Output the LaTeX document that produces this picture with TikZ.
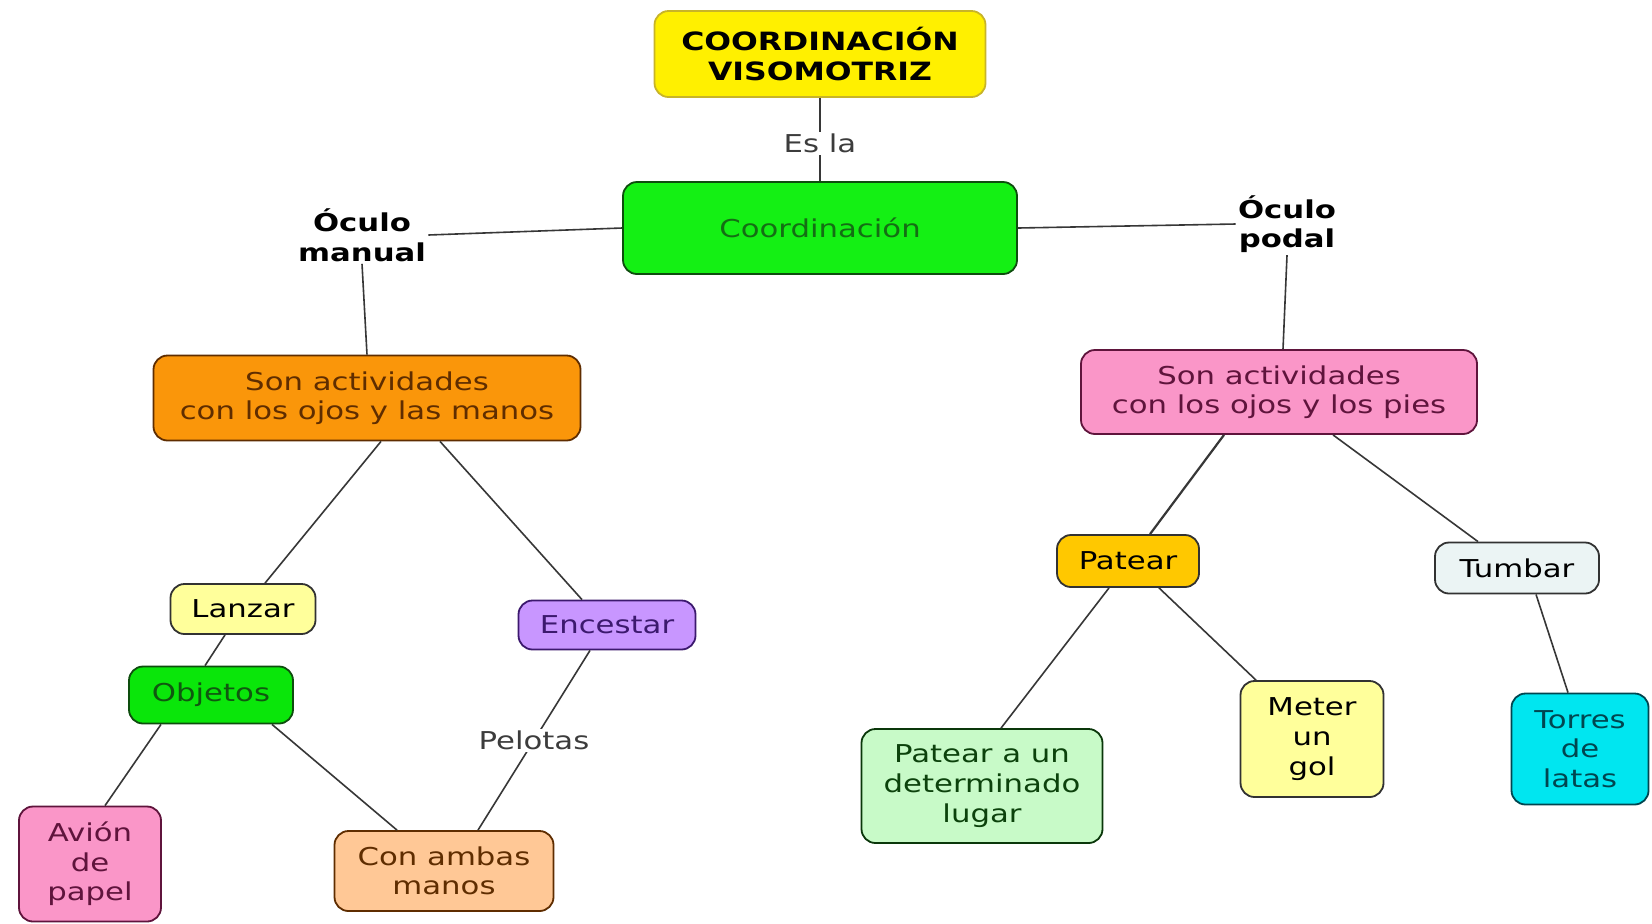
\documentclass[tikz,border=0pt]{standalone}
\usepackage{fontspec}
\setmainfont[FakeStretch=1.25]{DejaVu Sans}
\definecolor{linec}{RGB}{55,55,55}
\definecolor{bordc}{RGB}{50,50,50}
\definecolor{ctitle}{RGB}{255,240,0}
\definecolor{btitle}{RGB}{200,180,40}
\definecolor{ccoord}{RGB}{20,240,20}
\definecolor{tcoord}{RGB}{20,110,20}
\definecolor{corange}{RGB}{250,150,10}
\definecolor{torange}{RGB}{95,45,0}
\definecolor{cpink}{RGB}{250,150,200}
\definecolor{tpink}{RGB}{95,20,60}
\definecolor{clanzar}{RGB}{255,255,155}
\definecolor{cencest}{RGB}{200,150,255}
\definecolor{tencest}{RGB}{60,25,110}
\definecolor{cobjet}{RGB}{10,230,10}
\definecolor{cpeach}{RGB}{255,200,150}
\definecolor{cgold}{RGB}{255,200,0}
\definecolor{ctumbar}{RGB}{235,244,244}
\definecolor{clgreen}{RGB}{200,250,200}
\definecolor{ccyan}{RGB}{0,230,240}
\definecolor{tcyan}{RGB}{0,70,80}
\definecolor{tlabel}{RGB}{60,60,60}
\begin{document}
\begin{tikzpicture}[x=0.5pt,y=-0.5pt,
  box/.style={draw=bordc, line width=0.9pt, rounded corners=7pt, align=center, inner sep=2pt,
    font=\fontsize{12.3}{14.8}\selectfont},
  lbl/.style={align=center, inner sep=1pt, font=\fontsize{12.3}{14.8}\selectfont},
  conn/.style={draw=linec, line width=0.8pt}]
\useasboundingbox (0,0) rectangle (1652,923);
\fill[white] (0,0) rectangle (1652,923);

% nodes
\node[box, fill=ctitle, draw=btitle, minimum width=165.5pt, minimum height=43pt,
  font=\fontsize{12.6}{14.8}\selectfont\bfseries] (title) at (820,54) {COORDINACIÓN\\VISOMOTRIZ};
\node[box, fill=ccoord, draw=tcoord!70!black, text=tcoord, minimum width=197pt, minimum height=46pt] (coord) at (820,228) {Coordinación};
\node[lbl, font=\fontsize{12.3}{14.8}\selectfont\bfseries] (oman) at (362,235) {Óculo\\manual};
\node[lbl, font=\fontsize{12.3}{14.8}\selectfont\bfseries] (opod) at (1287,224) {Óculo\\podal};

\node[box, fill=corange, draw=torange, text=torange, minimum width=213.5pt, minimum height=42.5pt] (orange) at (367,398) {Son actividades\\con los ojos y las manos};
\node[box, fill=cpink, draw=tpink, text=tpink, minimum width=198pt, minimum height=42pt] (pink) at (1279,392) {Son actividades\\con los ojos y los pies};

\node[box, fill=clanzar, minimum width=72.5pt, minimum height=25pt] (lanzar) at (243,609) {Lanzar};
\node[box, fill=cencest, draw=tencest, text=tencest, minimum width=88.5pt, minimum height=24.5pt] (encest) at (607,625) {Encestar};
\node[box, fill=cobjet, draw=tcoord!70!black, text=tcoord!80!black, minimum width=82pt, minimum height=28.5pt] (objet) at (211,695) {Objetos};
\node[box, fill=cpink, draw=tpink, text=tpink, minimum width=71pt, minimum height=57.5pt] (avion) at (90,864) {Avión\\de\\papel};
\node[box, fill=cpeach, draw=torange, text=torange, minimum width=109.5pt, minimum height=40pt] (ambas) at (444,871) {Con ambas\\manos};

\node[box, fill=cgold, minimum width=71pt, minimum height=26pt] (patear) at (1128,561) {Patear};
\node[box, fill=ctumbar, minimum width=82pt, minimum height=25.5pt] (tumbar) at (1517,568) {Tumbar};
\node[box, fill=clgreen, draw=tcoord!50!black, text=tcoord!60!black, minimum width=120.5pt, minimum height=57pt] (lugar) at (982,786) {Patear a un\\determinado\\lugar};
\node[box, fill=clanzar, minimum width=71.5pt, minimum height=58pt] (meter) at (1312,739) {Meter\\un\\gol};
\node[box, fill=ccyan, draw=tcyan, text=tcyan, minimum width=68.5pt, minimum height=55.5pt] (torres) at (1580,749) {Torres\\de\\latas};

% connectors
\draw[conn] (title.south) -- node[lbl, fill=white, text=tlabel, pos=0.55] (esla) {Es la} (coord.north);
\draw[conn] (oman.east) -- (coord.west);
\draw[conn] (coord.east) -- (opod.west);
\draw[conn] (oman.south) -- (orange.north);
\draw[conn] (opod.south) -- ([xshift=2pt]pink.north);

\draw[conn] ([xshift=7pt]orange.south) -- ([xshift=11pt]lanzar.north);
\draw[conn] ([xshift=36.5pt]orange.south) -- ([xshift=-12.5pt]encest.north);
\draw[conn] ([xshift=-9pt]lanzar.south) -- ([xshift=-3pt]objet.north);
\draw[conn] ([xshift=-25pt]objet.south) -- ([xshift=7.5pt]avion.north);
\draw[conn] ([xshift=30.5pt]objet.south) -- ([xshift=-23.5pt]ambas.north);
\draw[conn] ([xshift=-8.5pt]encest.south) -- node[lbl, fill=white, text=tlabel, pos=0.5] (pelotas) {Pelotas} ([xshift=17pt]ambas.north);

\draw[conn, line width=1.1pt] ([xshift=-27.5pt]pink.south) -- ([xshift=11pt]patear.north);
\draw[conn] ([xshift=27pt]pink.south) -- ([xshift=-19.5pt]tumbar.north);
\draw[conn] ([xshift=-9.5pt]patear.south) -- ([xshift=9.5pt]lugar.north);
\draw[conn] ([xshift=15.5pt]patear.south) -- ([xshift=-28pt]meter.north);
\draw[conn] ([xshift=9.5pt]tumbar.south) -- ([xshift=-6pt]torres.north);
\end{tikzpicture}
\end{document}
